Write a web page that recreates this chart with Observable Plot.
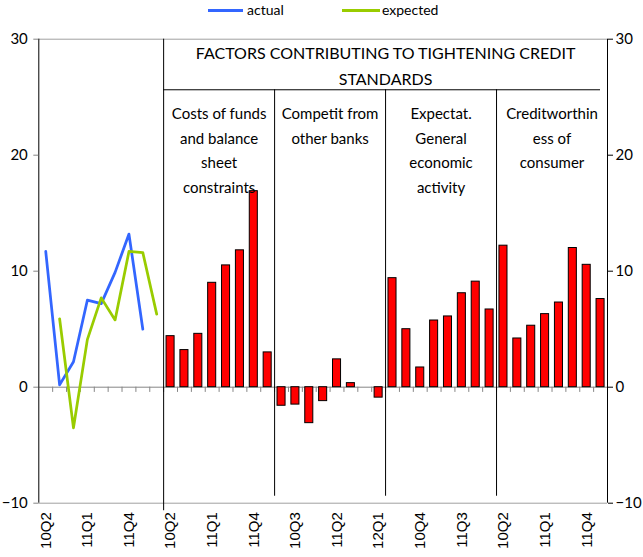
<!DOCTYPE html>
<html><head><meta charset="utf-8">
<script src="https://cdn.jsdelivr.net/npm/d3@7"></script>
<script src="https://cdn.jsdelivr.net/npm/@observablehq/plot@0.6"></script>
<style>
body{margin:0;background:#fff;}
#legend{position:relative;height:24px;width:643px;font-family:Lato,sans-serif;font-size:14px;color:#000;}
#legend .sw{position:absolute;top:9px;height:3px;}
#legend .lt{position:absolute;top:1px;line-height:18px;}
</style></head><body>
<div id="legend"></div>
<div id="chart"></div>
<script>
// ---- data ----
const lineQuarters = ["10Q2","10Q3","10Q4","11Q1","11Q2","11Q3","11Q4","12Q1","12Q2"];
const barQuarters = ["10Q2","10Q3","10Q4","11Q1","11Q2","11Q3","11Q4","12Q1"];
const seriesNames = ["actual","expected"];
const seriesColors = ["#3366ff","#99cc00"];
const actual =   [11.7, 0.2, 2.2, 7.5, 7.2, 9.9, 13.2, 5.0, null];
const expected = [null, 5.9, -3.5, 4.1, 7.7, 5.8, 11.7, 11.6, 6.3];
const factorLabels = [
  "Costs of funds\nand balance\nsheet\nconstraints",
  "Competit from\nother banks",
  "Expectat.\nGeneral\neconomic\nactivity",
  "Creditworthin\ness of\nconsumer"
];
const costsOfFunds =     [4.4, 3.2, 4.6, 9.0, 10.5, 11.8, 16.9, 3.0];
const competition =      [-1.6, -1.5, -3.1, -1.2, 2.4, 0.35, 0, -0.9];
const expectations =     [9.4, 5.0, 1.7, 5.75, 6.1, 8.1, 9.1, 6.7];
const creditworthiness = [12.2, 4.2, 5.3, 6.3, 7.3, 12.0, 10.55, 7.6];
const factorValues = [costsOfFunds, competition, expectations, creditworthiness];
const panelTitle = "FACTORS CONTRIBUTING TO TIGHTENING CREDIT\nSTANDARDS";
const yTicks = [-10, 0, 10, 20, 30];

// ---- derived tables ----
const slotLabels = lineQuarters.concat(...factorValues.map(() => barQuarters));
const nSlots = slotLabels.length;
const barStart = lineQuarters.length;
const groupStarts = factorValues.map((_, g) => barStart + g * barQuarters.length);
const lineRows = [];
[actual, expected].forEach((arr, s) => arr.forEach((v, i) => {
  if (v != null) lineRows.push({series: seriesNames[s], slot: i, value: v});
}));
const barRows = [];
factorValues.forEach((arr, g) => arr.forEach((v, i) => {
  if (v !== 0) barRows.push({slot: groupStarts[g] + i, value: v});
}));
const labelRows = factorLabels.map((t, g) => ({text: t, center: groupStarts[g] + barQuarters.length / 2}));
const boundaries = d3.range(1, nSlots);
const tickSlots = d3.range(0, nSlots, 3);
const [yMin, yMax] = d3.extent(yTicks);

// ---- legend ----
const legend = document.getElementById("legend");
const legendPos = [[208, 35, 247], [342, 38, 382]];
seriesNames.forEach((name, i) => {
  const [sx, sw, tx] = legendPos[i];
  const s = document.createElement("div");
  s.className = "sw"; s.style.left = sx + "px"; s.style.width = sw + "px"; s.style.background = seriesColors[i];
  const t = document.createElement("div");
  t.className = "lt"; t.style.left = tx + "px"; t.textContent = name;
  legend.append(s, t);
});

// ---- chart ----
const hw = 0.29;
const chart = Plot.plot({
  width: 643,
  height: 533,
  marginTop: 14.7,
  marginBottom: 54.3,
  marginLeft: 38.3,
  marginRight: 36,
  x: {type: "linear", domain: [0, nSlots], label: null},
  y: {domain: [yMin, yMax], label: null},
  color: {domain: seriesNames, range: seriesColors},
  style: {fontFamily: "Lato, sans-serif", fontSize: "15px", background: "#fff", overflow: "visible", color: "#000"},
  marks: [
    Plot.ruleY([yMax, yMin], {stroke: "#a0a0a0"}),
    Plot.ruleY([0], {stroke: "#868686"}),
    Plot.ruleX(boundaries, {x: d => d, y1: 0, y2: -0.45, stroke: "#868686"}),
    Plot.rectY(barRows, {x1: d => d.slot + 0.5 - hw, x2: d => d.slot + 0.5 + hw, y1: 0, y2: "value", fill: "#ff0000", stroke: "#000", strokeWidth: 1}),
    Plot.line(lineRows, {x: d => d.slot + 0.5, y: "value", z: "series", stroke: "series", strokeWidth: 2.75}),
    Plot.ruleX([0], {y1: yMin, y2: yMax, stroke: "#000"}),
    Plot.ruleX([nSlots], {y1: yMin, y2: yMax, stroke: "#000"}),
    // panel structure
    Plot.ruleX([barStart], {y1: yMax, y2: yMin - 0.65, stroke: "#000"}),
    Plot.ruleX(groupStarts.slice(1), {y1: 25.64, y2: yMin + 0.6, stroke: "#000"}),
    Plot.ruleY([25.64], {x1: barStart, x2: nSlots, insetRight: 7, stroke: "#000"}),
    Plot.text([panelTitle], {x: (barStart + nSlots) / 2, y: yMax, text: d => d, lineAnchor: "top", lineHeight: 1.625, dy: 1.8, fontSize: 16, fill: "#000"}),
    Plot.text(labelRows, {x: "center", y: yMax, text: "text", lineAnchor: "top", lineHeight: 1.63, dy: 62.9, fontSize: 15, fill: "#000"}),
    // axes
    Plot.axisY({anchor: "left", label: null, ticks: yTicks, tickSize: 5, tickPadding: 6, stroke: "#868686", fill: "#000", fontSize: 15}),
    Plot.axisY({anchor: "right", label: null, ticks: yTicks, tickSize: 5, tickPadding: 3, stroke: "#000", fill: "#000", fontSize: 15, textAnchor: "start"}),
    Plot.axisX({label: null, ticks: tickSlots.map(i => i + 0.5), tickFormat: v => slotLabels[Math.floor(v)], tickRotate: -90, tickSize: 0, tickPadding: 9, fontSize: 15, fill: "#000"})
  ]
});
d3.select(chart).selectAll('g[aria-label="x-axis tick label"]')
  .attr("font-family", "'Liberation Sans', Arial, sans-serif").attr("font-size", 15)
  .selectAll("text").style("font-family", "'Liberation Sans', Arial, sans-serif");
document.getElementById("chart").append(chart);
</script>
</body></html>
